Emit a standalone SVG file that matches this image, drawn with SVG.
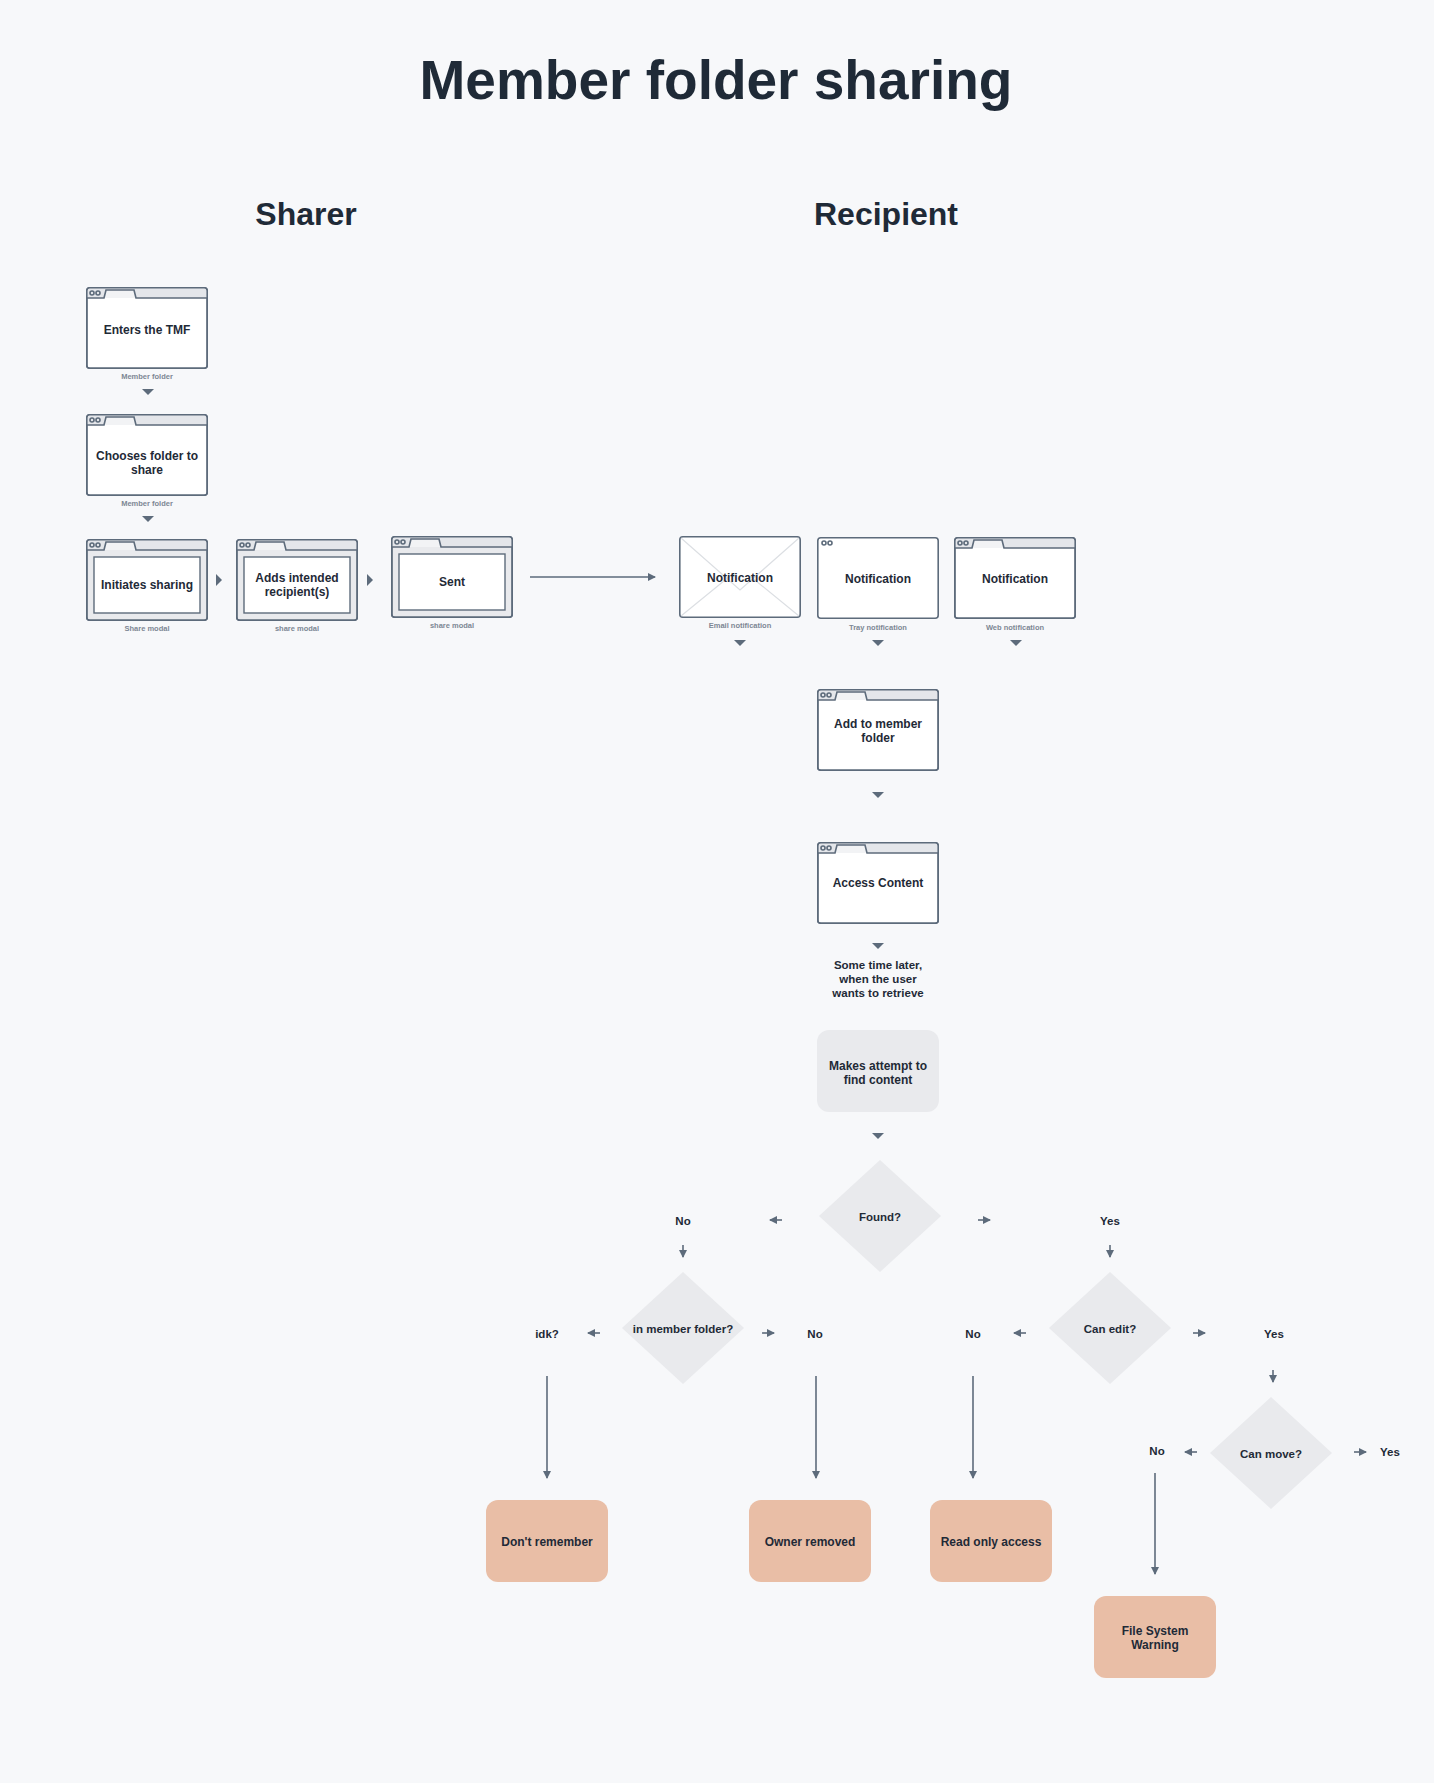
<svg xmlns="http://www.w3.org/2000/svg" xmlns:xlink="http://www.w3.org/1999/xlink" width="1434" height="1783" viewBox="0 0 1434 1783">
<style>
.t{font-family:"Liberation Sans",Arial,sans-serif;fill:#1f2a37;text-anchor:middle}
.h1{font-size:55px;font-weight:bold}
.h2{font-size:32px;font-weight:bold}
.n{font-size:12px;font-weight:bold}
.s{font-size:7.5px;font-weight:bold;fill:#7d8794}
.d{font-size:11.5px;font-weight:bold}
.ln{stroke:#5d6b7b;stroke-width:1.6;fill:none}
.tri{fill:#5d6b7b}
</style>
<defs>
<marker id="ah" markerWidth="8" markerHeight="8" refX="7" refY="4" orient="auto" markerUnits="userSpaceOnUse"><path d="M0,0 L8,4 L0,8z" fill="#5d6b7b"/></marker>
<g id="chrome">
<path d="M1,1 H121 V11 H1z" fill="#e4e6ea"/>
<path d="M18,11 L20,3 H48 L50,11z" fill="#f2f3f5"/>
<path d="M1,11 H18 L20,3 H48 L50,11 H121" class="ln" stroke-width="1.2"/>
<circle cx="6" cy="6" r="2" class="ln" stroke-width="1"/><circle cx="12" cy="6" r="2" class="ln" stroke-width="1"/>
</g>
<g id="folder"><rect x="0.8" y="0.8" width="120.4" height="80.4" rx="3" fill="#fff" stroke="#5d6b7b" stroke-width="1.6"/><use xlink:href="#chrome"/><rect x="0.8" y="0.8" width="120.4" height="80.4" rx="3" fill="none" stroke="#5d6b7b" stroke-width="1.6"/></g>
<g id="modal"><rect x="0.8" y="0.8" width="120.4" height="80.4" rx="3" fill="#e9eaed" stroke="#5d6b7b" stroke-width="1.6"/><use xlink:href="#chrome"/><rect x="0.8" y="0.8" width="120.4" height="80.4" rx="3" fill="none" stroke="#5d6b7b" stroke-width="1.6"/><rect x="8" y="18" width="106" height="56" fill="#fff" stroke="#5d6b7b" stroke-width="1.4"/></g>
<path id="dn" d="M-6,-3 H6 L0,3z" fill="#5d6b7b"/>
<path id="rt" d="M-3,-6 V6 L3,0z" fill="#5d6b7b"/>
<rect id="term" width="122" height="82" rx="12" fill="#e9bea6"/>
<path id="dia" d="M0,-56 L61,0 L0,56 L-61,0z" fill="#e9eaed"/>
</defs>
<rect width="1434" height="1783" fill="#f7f8fa"/>
<text class="t h1" x="716" y="99">Member folder sharing</text>
<text class="t h2" x="306" y="225">Sharer</text>
<text class="t h2" x="886" y="225">Recipient</text>

<g id="enters"><use xlink:href="#folder" x="86" y="287"/><text class="t n" x="147" y="334">Enters the TMF</text><text class="t s" x="147" y="379">Member folder</text></g>
<g id="chooses"><use xlink:href="#folder" x="86" y="414"/><text class="t n" x="147" y="460">Chooses folder to</text><text class="t n" x="147" y="474">share</text><text class="t s" x="147" y="506">Member folder</text></g>
<g id="initiates"><use xlink:href="#modal" x="86" y="539"/><text class="t n" x="147" y="589">Initiates sharing</text><text class="t s" x="147" y="631">Share modal</text></g>
<g id="adds"><use xlink:href="#modal" x="236" y="539"/><text class="t n" x="297" y="582">Adds intended</text><text class="t n" x="297" y="596">recipient(s)</text><text class="t s" x="297" y="631">share modal</text></g>
<g id="sent"><use xlink:href="#modal" x="391" y="536"/><text class="t n" x="452" y="586">Sent</text><text class="t s" x="452" y="628">share modal</text></g>
<g id="email"><rect x="679.8" y="536.8" width="120.4" height="80.4" rx="3" fill="#fff" stroke="#5d6b7b" stroke-width="1.6"/><path d="M681,538 L740,590 L799,538 M681,616 L730,576 M799,616 L750,576" stroke="#dcdfe3" stroke-width="1.2" fill="none"/><text class="t n" x="740" y="582">Notification</text><text class="t s" x="740" y="628">Email notification</text></g>
<g id="tray"><rect x="817.8" y="537.8" width="120.4" height="80.4" rx="3" fill="#fff" stroke="#5d6b7b" stroke-width="1.6"/><circle cx="824" cy="543" r="2" class="ln" stroke-width="1"/><circle cx="830" cy="543" r="2" class="ln" stroke-width="1"/><text class="t n" x="878" y="583">Notification</text><text class="t s" x="878" y="630">Tray notification</text></g>
<g id="web"><use xlink:href="#folder" x="954" y="537"/><text class="t n" x="1015" y="583">Notification</text><text class="t s" x="1015" y="630">Web notification</text></g>
<g id="addmember"><use xlink:href="#folder" x="817" y="689"/><text class="t n" x="878" y="728">Add to member</text><text class="t n" x="878" y="742">folder</text></g>
<g id="access"><use xlink:href="#folder" x="817" y="842"/><text class="t n" x="878" y="887">Access Content</text></g>
<g id="note"><text class="t d" x="878" y="969">Some time later,</text><text class="t d" x="878" y="983">when the user</text><text class="t d" x="878" y="997">wants to retrieve</text></g>
<g id="attempt"><rect x="817" y="1030" width="122" height="82" rx="12" fill="#e9eaed"/><text class="t n" x="878" y="1070">Makes attempt to</text><text class="t n" x="878" y="1084">find content</text></g>
<g id="found"><use xlink:href="#dia" x="880" y="1216"/><text class="t d" x="880" y="1221">Found?</text></g>
<g id="inmember"><use xlink:href="#dia" x="683" y="1328"/><text class="t d" x="683" y="1333">in member folder?</text></g>
<g id="canedit"><use xlink:href="#dia" x="1110" y="1328"/><text class="t d" x="1110" y="1333">Can edit?</text></g>
<g id="canmove"><use xlink:href="#dia" x="1271" y="1453"/><text class="t d" x="1271" y="1458">Can move?</text></g>
<g id="dontremember"><use xlink:href="#term" x="486" y="1500"/><text class="t n" x="547" y="1546">Don't remember</text></g>
<g id="ownerremoved"><use xlink:href="#term" x="749" y="1500"/><text class="t n" x="810" y="1546">Owner removed</text></g>
<g id="readonly"><use xlink:href="#term" x="930" y="1500"/><text class="t n" x="991" y="1546">Read only access</text></g>
<g id="fsw"><use xlink:href="#term" x="1094" y="1596"/><text class="t n" x="1155" y="1635">File System</text><text class="t n" x="1155" y="1649">Warning</text></g>
<g id="labels">
<text class="t d" x="683" y="1225">No</text><text class="t d" x="1110" y="1225">Yes</text>
<text class="t d" x="547" y="1338">idk?</text><text class="t d" x="815" y="1338">No</text>
<text class="t d" x="973" y="1338">No</text><text class="t d" x="1274" y="1338">Yes</text>
<text class="t d" x="1157" y="1455">No</text><text class="t d" x="1390" y="1456">Yes</text>
</g>
<g id="connectors">
<use xlink:href="#dn" x="148" y="392"/><use xlink:href="#dn" x="148" y="519"/>
<use xlink:href="#rt" x="219" y="580"/><use xlink:href="#rt" x="370" y="580"/>
<line x1="530" y1="577" x2="655" y2="577" class="ln" marker-end="url(#ah)"/>
<use xlink:href="#dn" x="740" y="643"/><use xlink:href="#dn" x="878" y="643"/><use xlink:href="#dn" x="1016" y="643"/>
<use xlink:href="#dn" x="878" y="795"/><use xlink:href="#dn" x="878" y="946"/><use xlink:href="#dn" x="878" y="1136"/>
<line x1="782" y1="1220" x2="770" y2="1220" class="ln" marker-end="url(#ah)"/>
<line x1="978" y1="1220" x2="990" y2="1220" class="ln" marker-end="url(#ah)"/>
<line x1="683" y1="1245" x2="683" y2="1257" class="ln" marker-end="url(#ah)"/>
<line x1="1110" y1="1245" x2="1110" y2="1257" class="ln" marker-end="url(#ah)"/>
<line x1="600" y1="1333" x2="588" y2="1333" class="ln" marker-end="url(#ah)"/>
<line x1="762" y1="1333" x2="774" y2="1333" class="ln" marker-end="url(#ah)"/>
<line x1="1026" y1="1333" x2="1014" y2="1333" class="ln" marker-end="url(#ah)"/>
<line x1="1193" y1="1333" x2="1205" y2="1333" class="ln" marker-end="url(#ah)"/>
<line x1="1273" y1="1370" x2="1273" y2="1382" class="ln" marker-end="url(#ah)"/>
<line x1="1197" y1="1452" x2="1185" y2="1452" class="ln" marker-end="url(#ah)"/>
<line x1="1354" y1="1452" x2="1366" y2="1452" class="ln" marker-end="url(#ah)"/>
<line x1="547" y1="1376" x2="547" y2="1478" class="ln" marker-end="url(#ah)"/>
<line x1="816" y1="1376" x2="816" y2="1478" class="ln" marker-end="url(#ah)"/>
<line x1="973" y1="1376" x2="973" y2="1478" class="ln" marker-end="url(#ah)"/>
<line x1="1155" y1="1473" x2="1155" y2="1574" class="ln" marker-end="url(#ah)"/>
</g>
</svg>
